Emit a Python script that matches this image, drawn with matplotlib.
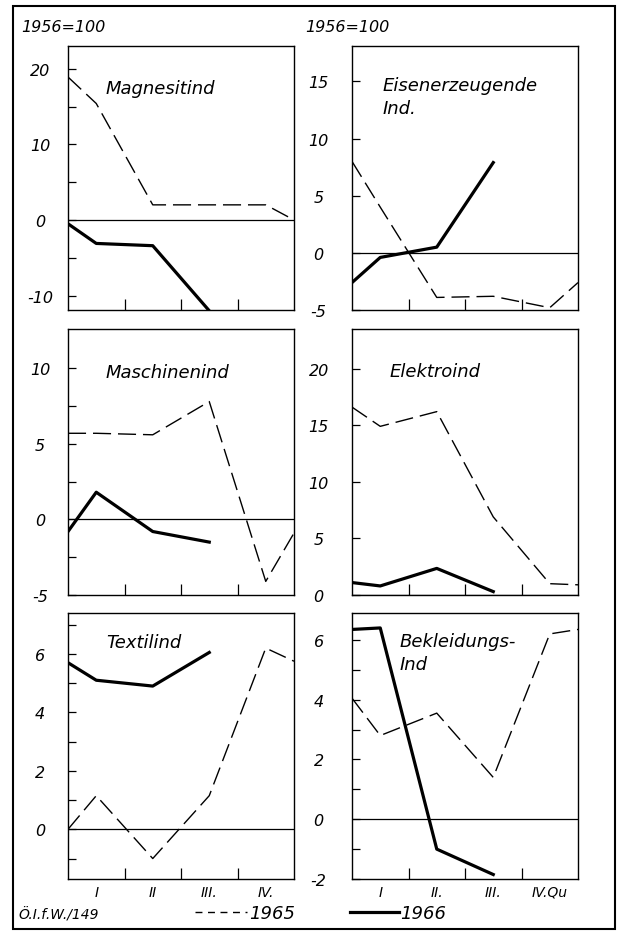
import matplotlib
matplotlib.use("Agg")
import matplotlib.pyplot as plt
from matplotlib.patches import Rectangle
from matplotlib.lines import Line2D

# ---------------- data ----------------
x_1965 = [0.0, 0.5, 1.5, 2.5, 3.5, 4.0]
x_1966 = [0.0, 0.5, 1.5, 2.5]

magnesit_1965 = [18.9, 15.4, 2.0, 2.0, 2.0, 0.0]
magnesit_1966 = [-0.5, -3.1, -3.4, -12.0]
eisen_1965 = [8.0, 4.0, -3.9, -3.8, -4.8, -2.6]
eisen_1966 = [-2.6, -0.4, 0.5, 7.9]
maschinen_1965 = [5.7, 5.7, 5.6, 7.8, -4.1, -0.9]
maschinen_1966 = [-0.8, 1.8, -0.8, -1.5]
elektro_1965 = [16.6, 14.9, 16.2, 6.9, 1.0, 0.9]
elektro_1966 = [1.1, 0.8, 2.35, 0.3]
textil_1965 = [0.0, 1.15, -1.0, 1.15, 6.2, 5.75]
textil_1966 = [5.7, 5.1, 4.9, 6.05]
bekleidung_1965 = [4.05, 2.8, 3.55, 1.4, 6.2, 6.35]
bekleidung_1966 = [6.35, 6.4, -1.0, -1.85]

titles = ["Magnesitind", "Eisenerzeugende\nInd.", "Maschinenind",
          "Elektroind", "Textilind", "Bekleidungs-\nInd"]
ylims = [(-11.9, 23.0), (-5.0, 18.1), (-5.0, 12.6), (0.0, 23.5),
         (-1.7, 7.4), (-2.0, 6.9)]
tick_vals = [[-10, -5, 0, 5, 10, 15, 20], [-5, 0, 5, 10, 15],
             [-5, -2.5, 0, 2.5, 5, 7.5, 10], [0, 5, 10, 15, 20],
             [-1, 0, 1, 2, 3, 4, 5, 6, 7], [-2, -1, 0, 1, 2, 3, 4, 5, 6]]
tick_labels = [["-10", "", "0", "", "10", "", "20"],
               ["-5", "0", "5", "10", "15"],
               ["-5", "", "0", "", "5", "", "10"],
               ["0", "5", "10", "15", "20"],
               ["", "0", "", "2", "", "4", "", "6", ""],
               ["-2", "", "0", "", "2", "", "4", "", "6"]]
q_labels_left = ["I", "II", "III.", "IV."]
q_labels_right = ["I", "II.", "III.", "IV.Qu"]
q_centers = [0.5, 1.5, 2.5, 3.5]
q_bounds = [1, 2, 3]
base_label = "1956=100"

series_65 = [magnesit_1965, eisen_1965, maschinen_1965, elektro_1965,
             textil_1965, bekleidung_1965]
series_66 = [magnesit_1966, eisen_1966, maschinen_1966, elektro_1966,
             textil_1966, bekleidung_1966]

# ---------------- layout ----------------
W, H = 621, 937
plt.rcParams['font.family'] = ['DejaVu Sans']
plt.rcParams['font.style'] = 'italic'
fig = plt.figure(figsize=(W / 100, H / 100), dpi=100)

col_x = [68, 352]
col_w = 226
rows = [(47, 311), (330, 596), (614, 880)]
title_pos = [(0.168, 0.84), (0.137, 0.885), (0.168, 0.84),
             (0.168, 0.843), (0.168, 0.89), (0.212, 0.93)]

dash = (13, 5)
for i in range(6):
    r, c = divmod(i, 2)
    y0, y1 = rows[r]
    ax = fig.add_axes([col_x[c] / W, 1 - y1 / H, col_w / W, (y1 - y0) / H])
    ax.plot(x_1965, series_65[i], color='black', lw=1.0, dashes=dash)
    ax.plot(x_1966, series_66[i], color='black', lw=2.3, solid_joinstyle='round')
    ax.axhline(0, color='black', lw=0.9)
    ax.set_xlim(0, 4)
    ax.set_ylim(*ylims[i])
    for s in ax.spines.values():
        s.set_linewidth(1.0)
    ax.set_yticks(tick_vals[i])
    ax.set_yticklabels(tick_labels[i], ha='center', fontsize=11.5, style='italic')
    ax.tick_params(axis='y', direction='in', length=6, width=0.9,
                   pad=20 if c == 0 else 24)
    ax.set_xticks(q_bounds)
    ax.set_xticklabels([])
    ax.tick_params(axis='x', direction='in', length=8, width=0.9)
    if r == 2:
        ax.set_xticks(q_centers, minor=True)
        ax.set_xticklabels(q_labels_left if c == 0 else q_labels_right,
                           minor=True, fontsize=10, style='italic')
        ax.tick_params(axis='x', which='minor', length=0, pad=4)
    tx, ty = title_pos[i]
    va = 'top' if '\n' in titles[i] else 'center'
    ax.text(tx, ty, titles[i], transform=ax.transAxes, fontsize=13,
            style='italic', ha='left', va=va, linespacing=1.35)

# base labels
fig.text(21 / W, 1 - 27 / H, base_label, fontsize=11.5, style='italic',
         ha='left', va='center')
fig.text(305 / W, 1 - 27 / H, base_label, fontsize=11.5, style='italic',
         ha='left', va='center')

# legends
h65 = Line2D([], [], color='black', lw=1.0, dashes=(5, 4))
h66 = Line2D([], [], color='black', lw=2.3)
fig.legend([h65], ["1965"], loc='center left',
           bbox_to_anchor=(195 / W, 1 - 914 / H), frameon=False,
           handlelength=2.9, handletextpad=0.1, borderpad=0, borderaxespad=0,
           prop={'size': 13, 'style': 'italic'})
fig.legend([h66], ["1966"], loc='center left',
           bbox_to_anchor=(350 / W, 1 - 914 / H), frameon=False,
           handlelength=2.7, handletextpad=0.1, borderpad=0, borderaxespad=0,
           prop={'size': 13, 'style': 'italic'})

fig.text(18 / W, 1 - 915 / H, "Ö.I.f.W./149", fontsize=10, style='italic',
         ha='left', va='center')

# outer frame
fig.patches.append(Rectangle((13 / W, 1 - 930 / H), (615 - 13) / W,
                             (930 - 7) / H, transform=fig.transFigure,
                             fill=False, lw=1.5, edgecolor='black'))

fig.savefig("out.png", dpi=100)
